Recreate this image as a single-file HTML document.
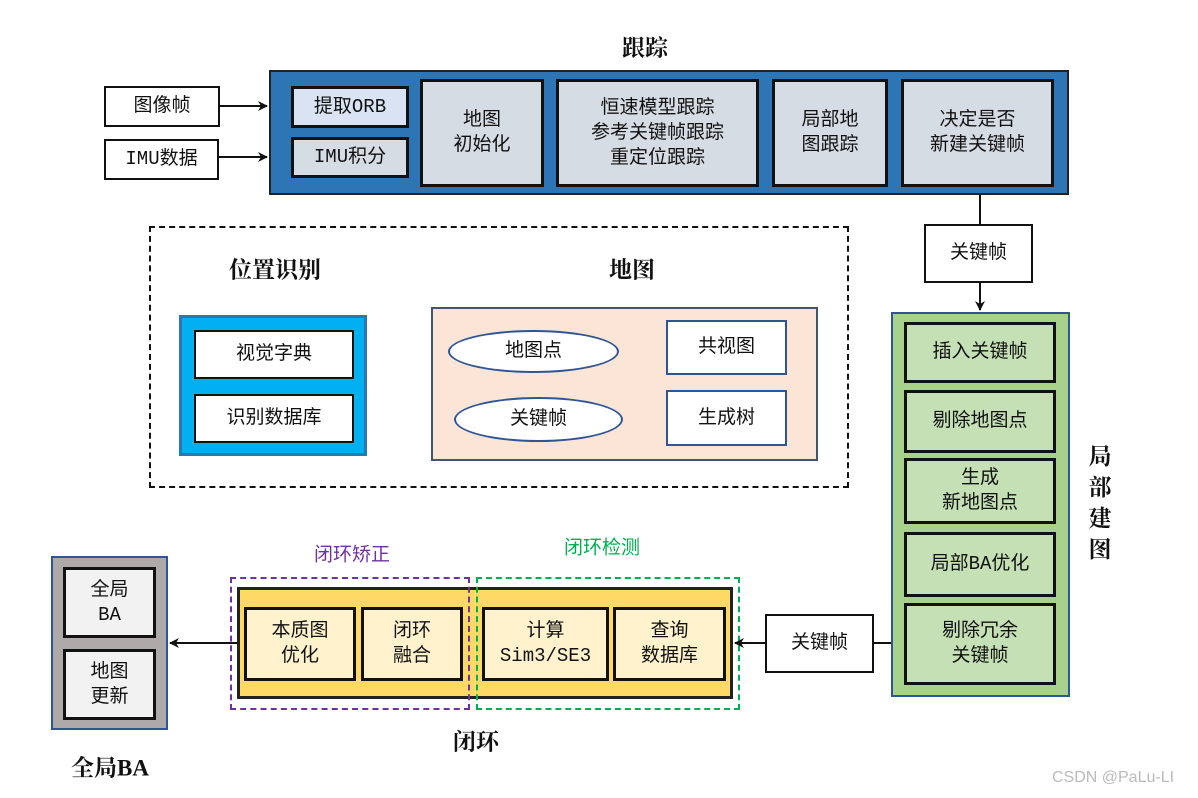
<!DOCTYPE html>
<html><head><meta charset="utf-8"><style>
body{margin:0;width:1198px;height:798px;background:#fff;position:relative;overflow:hidden;font-family:"Liberation Mono","Noto Sans CJK SC",monospace;}
.b{position:absolute;box-sizing:border-box;display:flex;align-items:center;justify-content:center;text-align:center;font-size:19px;line-height:25px;color:#111;}
.t{position:absolute;font-family:"Liberation Serif","Noto Serif CJK SC",serif;font-weight:bold;font-size:23px;color:#111;white-space:nowrap;transform:translate(-50%,-50%);}
.l{position:absolute;font-size:19px;white-space:nowrap;transform:translate(-50%,-50%);}
svg{position:absolute;left:0;top:0}
</style></head><body>
<!-- tracking -->
<div class="b" style="left:269px;top:70px;width:800px;height:125px;background:#2e75b6;border:2px solid #222"></div>
<div class="b" style="left:291px;top:86px;width:118px;height:42px;background:#dae3f3;border:3px solid #111">提取ORB</div>
<div class="b" style="left:291px;top:137px;width:118px;height:41px;background:#d6dce4;border:3px solid #111">IMU积分</div>
<div class="b" style="left:420px;top:79px;width:124px;height:108px;background:#d6dce4;border:3px solid #111">地图<br>初始化</div>
<div class="b" style="left:556px;top:79px;width:203px;height:108px;background:#d6dce4;border:3px solid #111">恒速模型跟踪<br>参考关键帧跟踪<br>重定位跟踪</div>
<div class="b" style="left:772px;top:79px;width:116px;height:108px;background:#d6dce4;border:3px solid #111">局部地<br>图跟踪</div>
<div class="b" style="left:901px;top:79px;width:153px;height:108px;background:#d6dce4;border:3px solid #111">决定是否<br>新建关键帧</div>
<div class="t" style="left:645px;top:46px">跟踪</div>
<div class="b" style="left:104px;top:86px;width:116px;height:41px;border:2px solid #111">图像帧</div>
<div class="b" style="left:104px;top:139px;width:115px;height:41px;border:2px solid #111">IMU数据</div>
<!-- dashed -->
<div class="b" style="left:149px;top:226px;width:700px;height:262px;border:2px dashed #111"></div>
<div class="t" style="left:275px;top:268px">位置识别</div>
<div class="t" style="left:632px;top:268px">地图</div>
<div class="b" style="left:179px;top:315px;width:188px;height:141px;background:#00b0f0;border:3px solid #2e75b6"></div>
<div class="b" style="left:194px;top:330px;width:160px;height:49px;background:#fff;border:2px solid #111">视觉字典</div>
<div class="b" style="left:194px;top:394px;width:160px;height:49px;background:#fff;border:2px solid #111">识别数据库</div>
<div class="b" style="left:431px;top:307px;width:387px;height:154px;background:#fbe5d6;border:2px solid #44546a"></div>
<div class="b" style="left:448px;top:330px;width:171px;height:43px;background:#fff;border:2px solid #2f5597;border-radius:50%">地图点</div>
<div class="b" style="left:454px;top:397px;width:169px;height:45px;background:#fff;border:2px solid #2f5597;border-radius:50%">关键帧</div>
<div class="b" style="left:666px;top:320px;width:121px;height:55px;background:#fff;border:2px solid #2f5597">共视图</div>
<div class="b" style="left:666px;top:390px;width:121px;height:56px;background:#fff;border:2px solid #2f5597">生成树</div>
<!-- local mapping -->
<div class="b" style="left:924px;top:224px;width:109px;height:59px;border:2px solid #111">关键帧</div>
<div class="b" style="left:891px;top:312px;width:179px;height:385px;background:#a9d18e;border:2px solid #2f5597"></div>
<div class="b" style="left:904px;top:322px;width:152px;height:61px;background:#c5e0b4;border:3px solid #111">插入关键帧</div>
<div class="b" style="left:904px;top:390px;width:152px;height:63px;background:#c5e0b4;border:3px solid #111">剔除地图点</div>
<div class="b" style="left:904px;top:458px;width:152px;height:66px;background:#c5e0b4;border:3px solid #111">生成<br>新地图点</div>
<div class="b" style="left:904px;top:532px;width:152px;height:65px;background:#c5e0b4;border:3px solid #111">局部BA优化</div>
<div class="b" style="left:904px;top:603px;width:152px;height:82px;background:#c5e0b4;border:3px solid #111">剔除冗余<br>关键帧</div>
<div class="t" style="left:1100px;top:503px;line-height:31px;text-align:center">局<br>部<br>建<br>图</div>
<div class="b" style="left:765px;top:614px;width:109px;height:59px;border:2px solid #111">关键帧</div>
<!-- loop -->
<div class="b" style="left:237px;top:587px;width:496px;height:112px;background:#ffd966;border:3px solid #222"></div>
<div class="b" style="left:244px;top:607px;width:112px;height:74px;background:#fff2cc;border:3px solid #111">本质图<br>优化</div>
<div class="b" style="left:361px;top:607px;width:102px;height:74px;background:#fff2cc;border:3px solid #111">闭环<br>融合</div>
<div class="b" style="left:482px;top:607px;width:127px;height:74px;background:#fff2cc;border:3px solid #111">计算<br>Sim3/SE3</div>
<div class="b" style="left:613px;top:607px;width:113px;height:74px;background:#fff2cc;border:3px solid #111">查询<br>数据库</div>
<div class="b" style="left:230px;top:577px;width:240px;height:133px;border:2px dashed #7030a0"></div>
<div class="b" style="left:476px;top:577px;width:264px;height:133px;border:2px dashed #00b050"></div>
<div class="l" style="left:352px;top:553px;color:#7030a0">闭环矫正</div>
<div class="l" style="left:602px;top:546px;color:#00b050">闭环检测</div>
<div class="t" style="left:476px;top:740px">闭环</div>
<!-- global BA -->
<div class="b" style="left:51px;top:556px;width:117px;height:174px;background:#aeaaaa;border:2px solid #2f5597"></div>
<div class="b" style="left:63px;top:567px;width:93px;height:71px;background:#f2f2f2;border:3px solid #111">全局<br>BA</div>
<div class="b" style="left:63px;top:649px;width:93px;height:71px;background:#f2f2f2;border:3px solid #111">地图<br>更新</div>
<div class="t" style="left:110px;top:766px">全局BA</div>
<div class="l" style="left:1113px;top:778px;color:#bbb;font-family:'Liberation Sans',sans-serif;font-size:16px">CSDN @PaLu-LI</div>
<svg width="1198" height="798">
<defs><marker id="a" markerWidth="10" markerHeight="10" refX="9" refY="5" orient="auto" markerUnits="userSpaceOnUse"><path d="M0,0 L10,5 L0,10 L3,5z" fill="#111"/></marker></defs>
<g stroke="#111" stroke-width="2" fill="none">
<line x1="220" y1="106" x2="267" y2="106" marker-end="url(#a)"/>
<line x1="219" y1="157" x2="267" y2="157" marker-end="url(#a)"/>
<line x1="980" y1="195" x2="980" y2="224"/>
<line x1="980" y1="283" x2="980" y2="310" marker-end="url(#a)"/>
<line x1="891" y1="643" x2="874" y2="643"/>
<line x1="765" y1="643" x2="735" y2="643" marker-end="url(#a)"/>
<line x1="237" y1="643" x2="170" y2="643" marker-end="url(#a)"/>
</g></svg>
</body></html>
